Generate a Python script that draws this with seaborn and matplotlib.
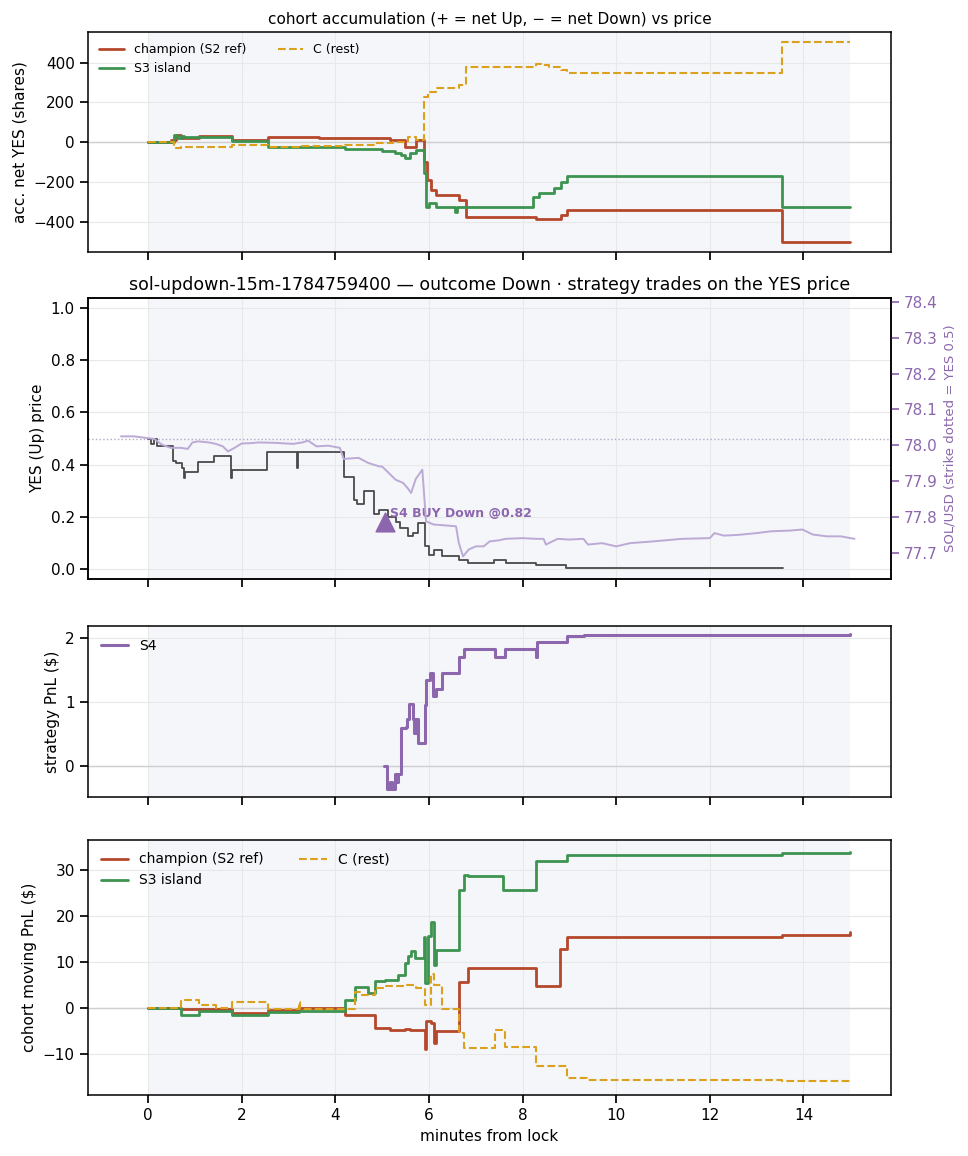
import matplotlib
matplotlib.use("Agg")
import matplotlib.pyplot as plt
import seaborn as sns

# --- data (minutes from lock, value) ---
# panel 1: accumulated net YES shares
champ_acc_t = [0, 0.49, 0.6, 0.71, 1.09, 1.8, 2.56, 3.65, 5.18, 5.5, 5.72, 5.9, 5.95, 6.05, 6.16, 6.65, 6.8, 8.29, 8.83, 8.94, 13.55, 15.0]
champ_acc_v = [0, 10, 37, 23, 32, 12, 28, 23, 12, -22, 12, -100, -188, -238, -263, -288, -375, -385, -363, -342, -500, -500]
s3_acc_t = [0, 0.55, 0.62, 0.7, 0.76, 1.8, 2.56, 4.2, 5.0, 5.28, 5.4, 5.5, 5.6, 5.72, 5.89, 5.93, 6.0, 6.16, 6.55, 6.6, 8.23, 8.36, 8.67, 8.83, 8.94, 13.55, 15.0]
s3_acc_v = [0, 37, 20, 30, 28, 8, -25, -32, -42, -52, -65, -80, -55, -38, -155, -322, -305, -325, -350, -325, -272, -255, -230, -197, -167, -325, -325]
c_acc_t = [0, 0.55, 0.7, 1.8, 2.56, 3.3, 4.2, 4.85, 5.23, 5.55, 5.72, 5.9, 5.98, 6.16, 6.65, 6.8, 8.29, 8.4, 8.56, 8.83, 8.94, 13.55, 15.0]
c_acc_v = [0, -30, -23, -13, -22, -18, -12, -5, 3, 28, 12, 228, 253, 270, 287, 378, 395, 388, 378, 365, 350, 503, 503]

# panel 2: YES price and SOL/USD
yes_t = [0, 0.07, 0.13, 0.2, 0.54, 0.6, 0.72, 0.77, 0.8, 1.07, 1.42, 1.77, 1.8, 2.54, 3.18, 3.21, 4.18, 4.41, 4.47, 4.62,
         4.82, 4.94, 5.12, 5.29, 5.39, 5.55, 5.67, 5.76, 5.92, 6.0, 6.12, 6.29, 6.64, 6.84, 7.4, 7.64, 8.29, 8.93, 13.57]
yes_v = [0.50, 0.48, 0.50, 0.47, 0.413, 0.406, 0.387, 0.35, 0.37, 0.41, 0.432, 0.35, 0.38, 0.45, 0.387, 0.45, 0.351, 0.265, 0.25, 0.30,
         0.21, 0.227, 0.20, 0.18, 0.156, 0.124, 0.135, 0.175, 0.086, 0.054, 0.07, 0.05, 0.032, 0.022, 0.032, 0.022, 0.012, 0.003, 0.003]
sol_t = [-0.575, -0.3, 0.0, 0.13, 0.3, 0.48, 0.7, 0.85, 0.95, 1.07, 1.3, 1.45, 1.6, 1.71, 1.85, 2.0, 2.2, 2.36, 2.7, 3.1,
         3.3, 3.42, 3.5, 3.6, 3.85, 4.1, 4.18, 4.5, 4.6, 4.7, 4.94, 5.0, 5.29, 5.45, 5.55, 5.62, 5.72, 5.86, 5.94, 6.1,
         6.4, 6.58, 6.64, 6.73, 6.85, 7.0, 7.17, 7.3, 7.5, 7.64, 8.0, 8.3, 8.45, 8.5, 8.75, 9.0, 9.3, 9.4, 9.7, 10.0,
         10.3, 10.5, 10.8, 11.4, 12.0, 12.1, 12.3, 12.6, 13.0, 13.3, 13.7, 13.98, 14.2, 14.5, 14.8, 15.0, 15.09]
sol_v = [78.025, 78.025, 78.020, 78.018, 78.002, 77.993, 77.993, 77.990, 78.008, 78.011, 78.008, 78.004, 77.997, 77.983, 77.993, 78.005, 78.006, 78.008, 78.007, 78.004,
         78.008, 78.013, 78.006, 77.997, 77.999, 77.993, 77.962, 77.965, 77.958, 77.951, 77.941, 77.941, 77.904, 77.895, 77.880, 77.867, 77.906, 77.932, 77.788, 77.779,
         77.776, 77.774, 77.727, 77.690, 77.709, 77.718, 77.718, 77.732, 77.735, 77.739, 77.741, 77.739, 77.739, 77.723, 77.739, 77.737, 77.739, 77.723, 77.727, 77.718,
         77.727, 77.729, 77.732, 77.739, 77.741, 77.755, 77.748, 77.750, 77.755, 77.760, 77.762, 77.765, 77.751, 77.746, 77.746, 77.741, 77.739]
strike = 78.019
trade_t, trade_yes = [5.06], [0.18]

# panel 3: strategy PnL
s4_t = [5.04, 5.1, 5.18, 5.22, 5.27, 5.31, 5.34, 5.4, 5.51, 5.54, 5.58, 5.66, 5.69, 5.73, 5.76, 5.91, 5.94, 6.03, 6.09, 6.16,
        6.29, 6.65, 6.76, 7.42, 7.63, 8.29, 8.31, 8.94, 9.32, 15.0]
s4_v = [0, -0.36, -0.25, -0.36, -0.12, -0.25, -0.12, 0.60, 0.62, 0.73, 0.97, 0.73, 0.52, 0.73, 0.37, 0.96, 1.35, 1.46, 1.09, 1.21,
        1.46, 1.71, 1.83, 1.70, 1.83, 1.70, 1.94, 2.04, 2.05, 2.07]

# panel 4: cohort moving PnL
champ_pnl_t = [0, 0.71, 1.8, 2.56, 3.22, 4.2, 4.85, 5.18, 5.5, 5.6, 5.91, 5.94, 6.05, 6.1, 6.16, 6.65, 6.84, 8.29, 8.81, 8.94, 13.55, 15.0]
champ_pnl_v = [0, -0.2, -1.1, -0.5, 0.1, -1.6, -4.4, -4.7, -4.6, -4.7, -9.0, -2.9, -3.2, -7.6, -5.0, 5.8, 8.7, 4.8, 12.8, 15.4, 16.0, 16.5]
s3_pnl_t = [0, 0.71, 1.09, 1.8, 2.56, 3.22, 4.2, 4.42, 4.69, 4.85, 5.07, 5.34, 5.5, 5.56, 5.62, 5.71, 5.89, 5.92, 5.98, 6.05,
            6.1, 6.16, 6.65, 6.76, 6.84, 7.58, 8.29, 8.94, 13.55, 15.0]
s3_pnl_v = [0, -1.6, -0.6, -1.6, -0.9, -0.7, 1.7, 4.7, 3.4, 5.9, 6.1, 7.3, 9.9, 11.3, 12.4, 11.0, 15.4, 5.4, 15.8, 18.7,
            9.5, 12.7, 25.8, 28.9, 28.8, 25.8, 32.1, 33.3, 33.8, 34.1]
c_pnl_t = [0, 0.71, 1.09, 1.45, 1.8, 2.56, 3.22, 3.25, 4.42, 4.58, 4.85, 5.07, 5.5, 5.73, 5.92, 6.05, 6.1, 6.27, 6.65, 6.76,
           7.42, 7.63, 8.29, 8.94, 9.38, 13.55, 15.0]
c_pnl_v = [0, 1.7, 0.6, 0.0, 1.3, -0.1, 1.4, -0.1, 3.6, 2.8, 4.3, 4.9, 5.0, 4.4, 0.6, 7.5, 5.0, -0.1, -5.5, -8.7,
           -4.7, -8.4, -12.7, -15.2, -15.6, -15.9, -16.4]

# colours
C_CHAMP = "#b5472b"
C_S3 = "#3d9350"
C_REST = "#dba11c"
C_PURPLE = "#8c67ad"
C_SOL = "#bcaad6"
C_YES = "#4a4a4a"

sns.set_theme(style="ticks")
plt.rcParams["font.family"] = ["DejaVu Sans"]
plt.rcParams.update({
    "axes.edgecolor": "black", "axes.linewidth": 1.1,
    "text.color": "black", "axes.labelcolor": "black",
    "xtick.color": "black", "ytick.color": "black",
    "xtick.labelsize": 11, "ytick.labelsize": 11,
    "axes.labelsize": 11, "grid.color": "#e8e8e8", "grid.linewidth": 0.8,
})

fig = plt.figure(figsize=(9.68, 11.56), dpi=100)
W, H = 968, 1156
L, R = 88, 891


def add_ax(top, bottom, share=None):
    return fig.add_axes([L / W, 1 - bottom / H, (R - L) / W, (bottom - top) / H], sharex=share)


ax1 = add_ax(32, 252)
ax2 = add_ax(298, 579, ax1)
ax3 = add_ax(626, 797, ax1)
ax4 = add_ax(840, 1095, ax1)


def base(ax, zero=True):
    ax.axvspan(0, 15, color="#f5f6fa", zorder=0, lw=0)
    ax.grid(True, zorder=0)
    ax.set_axisbelow(True)
    if zero:
        ax.axhline(0, color="#cfcfcf", lw=1.0, zorder=1)


def step(ax, t, v, color, label=None, ls="-", lw=2.0):
    sns.lineplot(x=t, y=v, ax=ax, color=color, label=label, drawstyle="steps-post",
                 estimator=None, sort=False, lw=lw, linestyle=ls)


# panel 1
base(ax1)
step(ax1, champ_acc_t, champ_acc_v, C_CHAMP, "champion (S2 ref)")
step(ax1, s3_acc_t, s3_acc_v, C_S3, "S3 island")
step(ax1, c_acc_t, c_acc_v, C_REST, "C (rest)", ls="--", lw=1.5)
ax1.legend(loc="upper left", ncol=2, frameon=False, fontsize=9, columnspacing=2.5)
ax1.set_title("cohort accumulation (+ = net Up, \u2212 = net Down) vs price", fontsize=11)
ax1.set_ylabel("acc. net YES (shares)")

# panel 2
base(ax2, zero=False)
ax2.axhline(0.5, color="#b3a8c4", lw=1.0, ls=":", zorder=1)
step(ax2, yes_t, yes_v, C_YES, lw=1.3)
sns.scatterplot(x=trade_t, y=trade_yes, ax=ax2, marker="^", s=180, color=C_PURPLE, edgecolor=C_PURPLE, zorder=5)
ax2.text(trade_t[0] + 0.12, trade_yes[0] + 0.03, "S4 BUY Down @0.82", color=C_PURPLE,
         fontsize=9, fontweight="bold", va="center", ha="left")
ax2.set_ylim(-0.04, 1.04)
ax2.set_ylabel("YES (Up) price")
ax2.set_title("sol-updown-15m-1784759400 \u2014 outcome Down \u00b7 strategy trades on the YES price", fontsize=12.5)
ax2r = ax2.twinx()
sns.lineplot(x=sol_t, y=sol_v, ax=ax2r, color=C_SOL, lw=1.4, estimator=None, sort=False)
k = 0.726
ax2r.set_ylim(strike - 0.54 * k, strike + 0.54 * k)
ax2r.set_ylabel("SOL/USD (strike dotted = YES 0.5)", color=C_PURPLE, fontsize=9.5)
ax2r.tick_params(axis="y", colors=C_PURPLE, labelsize=11)
ax2r.grid(False)

# panel 3
base(ax3)
step(ax3, s4_t, s4_v, C_PURPLE, "S4", lw=2.2)
ax3.legend(loc="upper left", frameon=False, fontsize=10)
ax3.set_ylabel("strategy PnL ($)")

# panel 4
base(ax4)
step(ax4, champ_pnl_t, champ_pnl_v, C_CHAMP, "champion (S2 ref)")
step(ax4, s3_pnl_t, s3_pnl_v, C_S3, "S3 island")
step(ax4, c_pnl_t, c_pnl_v, C_REST, "C (rest)", ls="--", lw=1.5)
ax4.legend(loc="upper left", ncol=2, frameon=False, fontsize=10, columnspacing=2.5)
ax4.set_ylabel("cohort moving PnL ($)")
ax4.set_xlabel("minutes from lock")

ax1.set_xlim(-1.28, 15.87)
for ax in (ax1, ax2, ax3):
    ax.tick_params(labelbottom=False)

fig.savefig("out.png", dpi=100)
